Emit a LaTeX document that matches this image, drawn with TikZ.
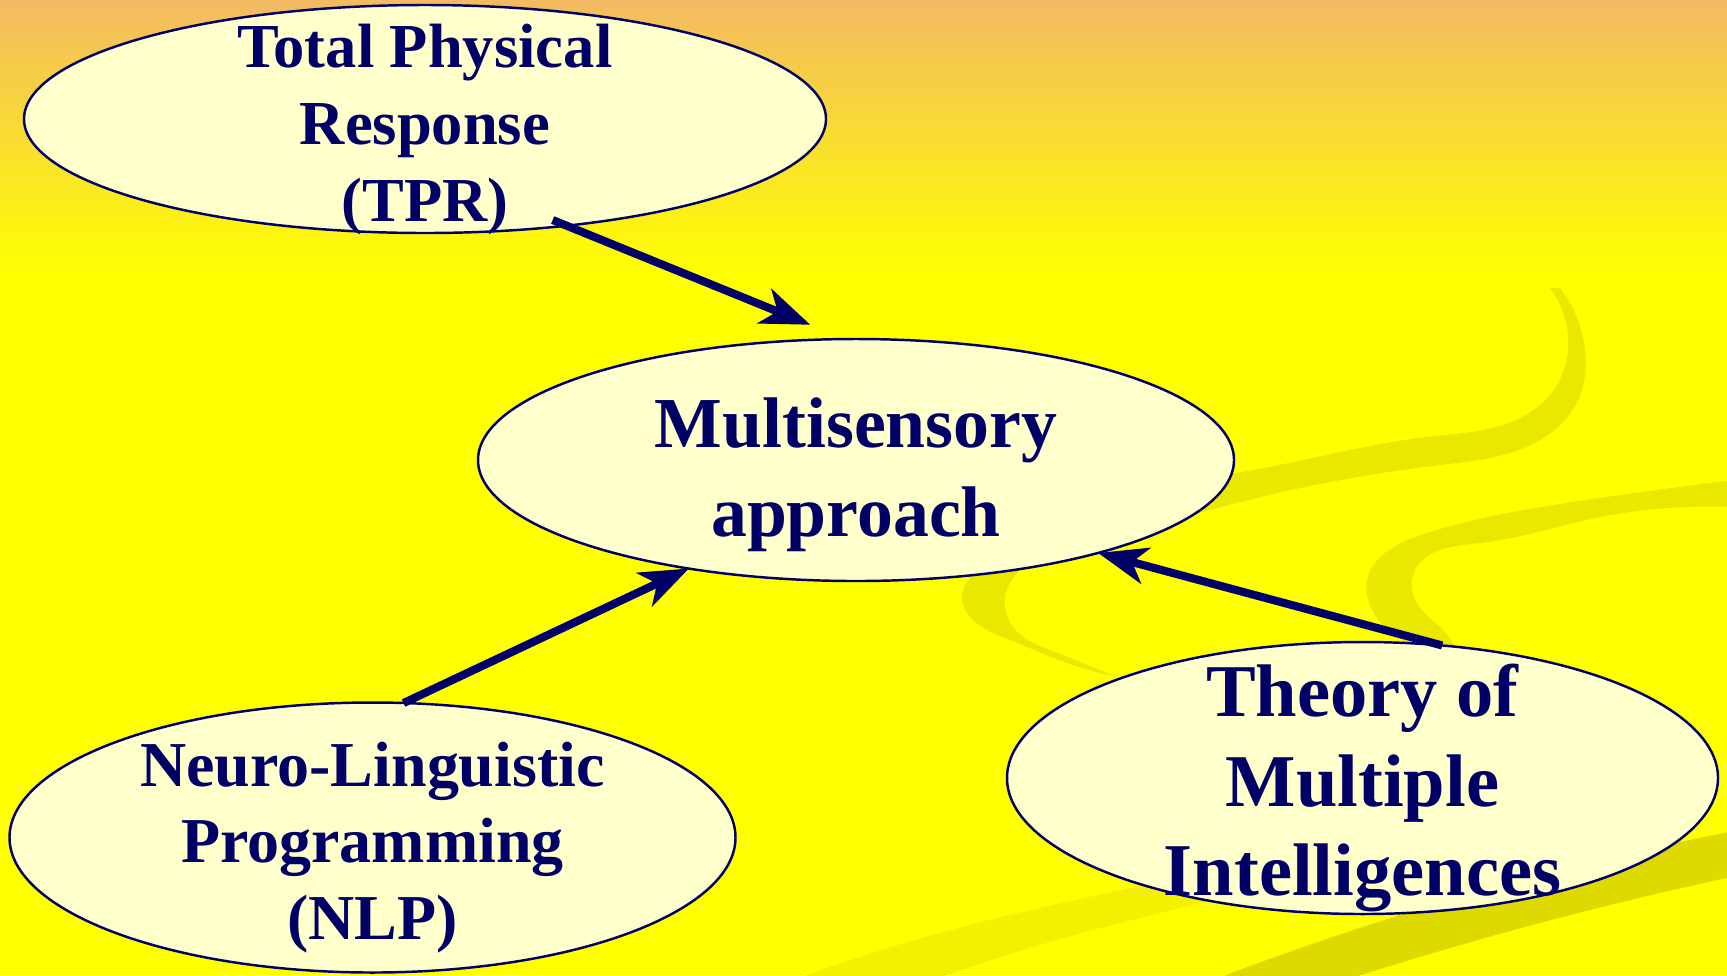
\documentclass[tikz,border=0pt]{standalone}
\usepackage{fontspec}
\setmainfont{Liberation Serif}
\usetikzlibrary{positioning, arrows.meta, shapes.geometric, hobby}

\definecolor{navy}{RGB}{0,0,102}
\definecolor{cream}{RGB}{255,255,204}
\definecolor{sunset}{RGB}{243,186,98}
\definecolor{sun}{RGB}{255,255,0}
\definecolor{swoosh}{RGB}{235,232,0}
\definecolor{swooshdark}{RGB}{222,218,0}
\definecolor{swooshlight}{RGB}{243,240,0}

\begin{document}
\begin{tikzpicture}[use Hobby shortcut,
    blob/.style={ellipse, draw=navy, line width=.7pt, fill=cream, inner sep=0pt, outer sep=0pt},
    lbl/.style={align=center, text=navy, yshift=-1mm},
    link/.style={-{Stealth[length=14pt, width=10.5pt, inset=4pt]}, draw=navy, line width=2.3pt}]

% background
\useasboundingbox (0,0) rectangle (17.27,-9.75);
\fill[sun] (0,0) rectangle (17.27,-9.75);
\shade[top color=sunset, bottom color=sun] (0,0) rectangle (17.27,-2.75);

% swoosh behind the middle ellipse
\fill[swoosh] (15.50,-2.88)..(15.68,-3.50)..(15.54,-3.90)..(15.22,-4.17)..(14.27,-4.37)..(12.69,-4.67)..(11.0,-5.10)..(10.2,-5.50)..(9.70,-5.78)..(9.62,-5.97)..(9.73,-6.20)..(10.10,-6.40)..(10.67,-6.63)..(11.17,-6.77)
  -- (11.17,-6.77)..(10.50,-6.50)..(10.13,-6.27)..(10.05,-5.98)..(10.17,-5.73)..(10.80,-5.45)..(11.95,-5.14)..(12.69,-4.95)..(14.40,-4.65)..(15.45,-4.37)..(15.78,-4.00)..(15.85,-3.50)..(15.60,-2.88) -- cycle;

% swoosh behind theory
\fill[swoosh] (17.50,-4.78)..(15.86,-5.00)..(14.27,-5.33)..(13.85,-5.53)..(13.67,-5.80)..(13.70,-6.05)..(13.85,-6.27)..(14.12,-6.47)..(14.30,-6.70)
  -- (14.60,-6.60)..(14.43,-6.30)..(14.22,-6.10)..(14.12,-5.90)..(14.14,-5.72)..(14.80,-5.43)..(15.86,-5.20)..(17.50,-5.08) -- cycle;

% bottom swooshes
\fill[swooshdark] (17.50,-8.28)..(13.94,-9.17)..(12.00,-9.85) -- (13.30,-9.85)..(15.51,-9.20)..(17.50,-8.73) -- cycle;
\fill[swooshlight] (13.00,-8.50)..(11.45,-8.85)..(9.62,-9.27)..(7.80,-9.85) -- (9.20,-9.85)..(10.67,-9.37)..(12.11,-9.00)..(13.50,-8.60) -- cycle;

% ellipses
\node[blob, minimum width=8.02cm, minimum height=2.28cm] (tpr) at (4.25,-1.19) {};
\node[blob, minimum width=7.56cm, minimum height=2.42cm] (multi) at (8.56,-4.60) {};
\node[blob, minimum width=7.26cm, minimum height=2.70cm] (nlp) at (3.725,-8.375) {};
\node[blob, minimum width=7.11cm, minimum height=2.72cm] (theory) at (13.625,-7.78) {};

% labels
\node[lbl, font=\bfseries\fontsize{17.8}{21.9}\selectfont] (tprtext) at (tpr) {Total Physical\\Response\\(TPR)};
\node[lbl, yshift=-.5mm, font=\bfseries\fontsize{20.4}{25.3}\selectfont] (multitext) at (multi) {Multisensory\\approach};
\node[lbl, font=\bfseries\fontsize{18.2}{21.8}\selectfont] (nlptext) at (nlp) {Neuro-Linguistic\\Programming\\(NLP)};
\node[lbl, font=\bfseries\fontsize{21.2}{25.5}\selectfont] (theorytext) at (theory) {Theory of\\Multiple\\Intelligences};

% arrows
\draw[link, shorten <=-1.5mm, shorten >=3.8mm] (tpr.-37) -- (multi.95);
\draw[link] (nlp.77) -- (multi.213);
\draw[link] (theory.59) -- (multi.-21);

\end{tikzpicture}
\end{document}
